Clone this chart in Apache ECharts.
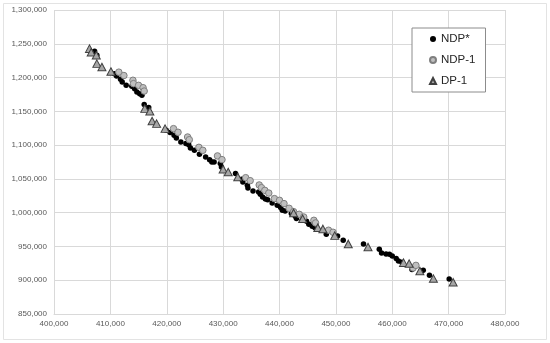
<!DOCTYPE html>
<html>
<head>
<meta charset="utf-8">
<script src="https://cdn.jsdelivr.net/npm/echarts@6/dist/echarts.min.js"></script>
<style>
  html, body { margin: 0; padding: 0; background: #fff; }
  #chart { width: 550px; height: 343px; }
</style>
</head>
<body>
<div id="chart"></div>
<script>
// values, [x, y]
var ndpStar = [
  [407200, 1238800], [407600, 1233000], [410700, 1205800], [411100, 1202300], [411800, 1197400],
  [412100, 1193400], [412800, 1188500], [413800, 1187000], [414300, 1183600], [414700, 1178600],
  [415200, 1176200], [415600, 1173700], [416000, 1160000], [416800, 1155500], [419900, 1121900],
  [420600, 1118500], [421300, 1114500], [421700, 1110600], [422500, 1104600], [423400, 1102200],
  [423900, 1100700], [424200, 1095800], [424900, 1092300], [425800, 1086400], [426900, 1082400],
  [427600, 1078500], [428000, 1075000], [428400, 1075000], [429500, 1072600], [429700, 1067600],
  [432200, 1057800], [433300, 1049400], [433500, 1045400], [434300, 1040500], [434400, 1036600],
  [435300, 1032100], [436300, 1030600], [436600, 1027200], [437000, 1023200], [437500, 1020300],
  [437900, 1019300], [438700, 1014400], [439600, 1010900], [440200, 1007500], [440500, 1003500],
  [441000, 1002500], [442100, 998600], [442800, 994600], [443000, 991200], [444000, 988700],
  [444800, 987200], [445200, 982800], [445800, 979800], [446300, 977800], [448300, 968000],
  [450300, 965500], [451300, 959100], [454900, 953700], [457700, 945800], [458100, 940400],
  [458900, 938900], [459500, 938400], [460000, 936000], [460700, 932000], [461100, 928500],
  [461700, 926500], [463500, 915700], [465500, 914700], [466600, 907300], [470100, 901900]
];
var ndp1 = [
  [411500, 1208000], [412400, 1203000], [414000, 1196000], [414100, 1191000], [415000, 1188500],
  [415800, 1185000], [416000, 1180000], [421200, 1124400], [422000, 1119000], [423700, 1112000],
  [424000, 1108000], [425700, 1096700], [426400, 1092300], [429000, 1084000], [429800, 1078500],
  [434000, 1051800], [434800, 1047400], [436400, 1041000], [436800, 1037000], [437400, 1033000],
  [438100, 1029000], [439100, 1020800], [440000, 1018300], [440800, 1013400], [441700, 1006500],
  [442500, 1001500], [443500, 997600], [444300, 993600], [446100, 988700], [446400, 984800],
  [448700, 974000], [449500, 971000], [463700, 918200], [464200, 922000]
];
var dp1 = [
  [406300, 1242800], [406600, 1237500], [407500, 1233000], [407600, 1220600], [408500, 1215600],
  [410100, 1209000], [416100, 1154000], [417000, 1150000], [417400, 1135700], [418200, 1131800],
  [419700, 1124400], [430000, 1064200], [430900, 1060200], [432600, 1052800], [442500, 999600],
  [444100, 991000], [446800, 977800], [447700, 975900], [449800, 966000], [452200, 953700],
  [455700, 949200], [462000, 926000], [463000, 924600], [464900, 913700], [467300, 902400],
  [470800, 897000]
];
var seriesNames = ['NDP*', 'NDP-1', 'DP-1'];

var myChart = echarts.init(document.getElementById('chart'));
var labelColor = '#595959';
var gridColor = '#d9d9d9';
var fmt = function (v) { return v.toLocaleString('en-US'); };

var option = {
  animation: false,
  backgroundColor: '#fff',
  textStyle: { fontFamily: 'Liberation Sans, Arial, sans-serif' },
  graphic: [{
    type: 'rect',
    shape: { x: 3.5, y: 3.5, width: 543, height: 336 },
    style: { fill: 'none', stroke: '#e3e3e3', lineWidth: 1 },
    silent: true
  }],
  grid: { left: 54, right: 45, top: 10, bottom: 29 },
  legend: {
    orient: 'vertical',
    left: 412,
    top: 28,
    padding: [5, 10, 5, 17],
    itemGap: 9,
    itemWidth: 6,
    itemHeight: 6,
    borderColor: '#8c8c8c',
    borderWidth: 1,
    backgroundColor: '#fff',
    textStyle: { fontSize: 11.5, color: '#262626', fontFamily: 'Liberation Sans, Arial, sans-serif' },
    data: seriesNames
  },
  xAxis: {
    type: 'value',
    min: 400000,
    max: 480000,
    interval: 10000,
    axisLine: { show: true, lineStyle: { color: gridColor } },
    axisTick: { show: false },
    axisLabel: { color: labelColor, fontSize: 8, margin: 6, formatter: fmt },
    splitLine: { show: true, lineStyle: { color: gridColor } }
  },
  yAxis: {
    type: 'value',
    min: 850000,
    max: 1300000,
    interval: 50000,
    axisLine: { show: false },
    axisTick: { show: false },
    axisLabel: { color: labelColor, fontSize: 8, margin: 7, formatter: fmt },
    splitLine: { show: true, lineStyle: { color: gridColor } }
  },
  series: [{
    name: seriesNames[0],
    type: 'scatter',
    symbol: 'circle',
    symbolSize: 5.5,
    itemStyle: { color: '#000', opacity: 1 },
    data: ndpStar
  }, {
    name: seriesNames[1],
    type: 'scatter',
    symbol: 'circle',
    symbolSize: 6.5,
    itemStyle: { color: '#bfbfbf', borderColor: '#7f7f7f', borderWidth: 1, opacity: 1 },
    data: ndp1
  }, {
    name: seriesNames[2],
    type: 'scatter',
    symbol: 'triangle',
    symbolSize: [8, 7.5],
    itemStyle: { color: '#a6a6a6', borderColor: '#404040', borderWidth: 1, opacity: 1 },
    data: dp1
  }]
};

myChart.setOption(option);
window.addEventListener('resize', function () {
  myChart.resize();
});
</script>
</body>
</html>
